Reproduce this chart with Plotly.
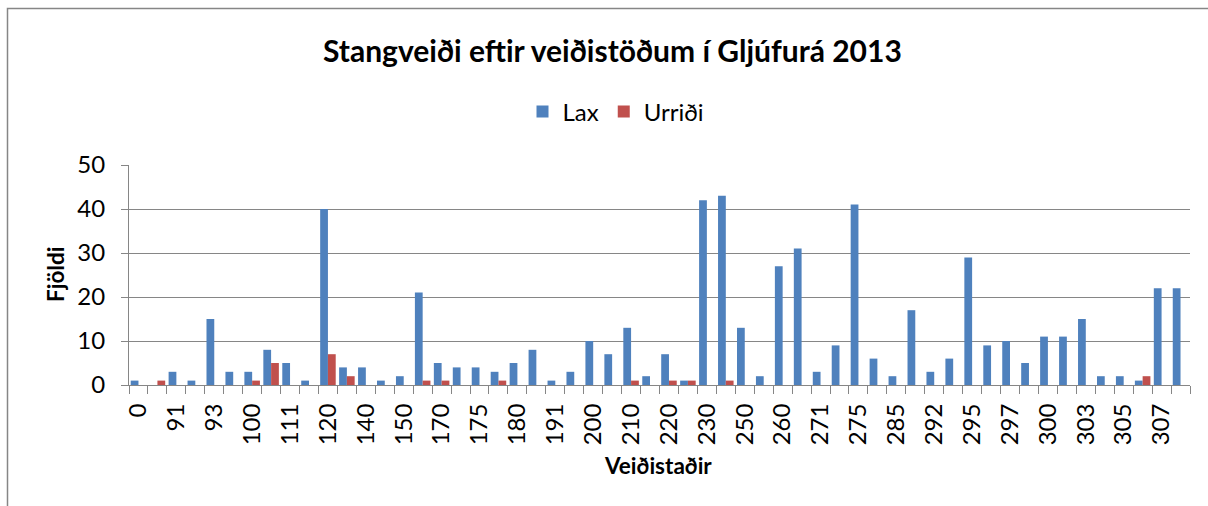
import plotly.graph_objects as go

# Category positions (56 fishing spots); only every other one carries a visible label
n_categories = 56
tick_labels = ["0", "91", "93", "100", "111", "120", "140", "150", "170", "175",
               "180", "191", "200", "210", "220", "230", "250", "260", "271", "275",
               "285", "292", "295", "297", "300", "303", "305", "307"]

lax = [1, 0, 3, 1, 15, 3, 3, 8, 5, 1,
       40, 4, 4, 1, 2, 21, 5, 4, 4, 3,
       5, 8, 1, 3, 10, 7, 13, 2, 7, 1,
       42, 43, 13, 2, 27, 31, 3, 9, 41, 6,
       2, 17, 3, 6, 29, 9, 10, 5, 11, 11,
       15, 2, 2, 1, 22, 22]
urridi = [0, 1, 0, 0, 0, 0, 1, 5, 0, 0,
          7, 2, 0, 0, 0, 1, 1, 0, 0, 1,
          0, 0, 0, 0, 0, 0, 1, 0, 1, 1,
          0, 1, 0, 0, 0, 0, 0, 0, 0, 0,
          0, 0, 0, 0, 0, 0, 0, 0, 0, 0,
          0, 0, 0, 2, 0, 0]

x_pos = list(range(n_categories))
tick_pos = x_pos[::2]

FONT = "Lato"
W, H = 1208, 506
L, R, T, B = 129, 18, 165, 121
pw, ph = W - L - R, H - T - B

def px(x):
    return (x - L) / pw

def py(y):
    return (H - B - y) / ph

fig = go.Figure()
fig.add_trace(go.Bar(x=x_pos, y=lax, name="Lax", marker=dict(color="#4F81BD", line=dict(width=0))))
fig.add_trace(go.Bar(x=x_pos, y=urridi, name="Urriði", marker=dict(color="#C0504D", line=dict(width=0))))

fig.update_layout(
    width=W, height=H,
    margin=dict(l=L, r=R, t=T, b=B, autoexpand=False),
    paper_bgcolor="white", plot_bgcolor="white",
    barmode="group", bargap=0.18, bargroupgap=0,
    font=dict(family=FONT, color="black"),
    showlegend=True,
    legend=dict(orientation="h", x=px(616), y=py(112), xanchor="center", yanchor="middle",
                font=dict(size=24, family=FONT), itemwidth=30, tracegroupgap=0,
                bgcolor="rgba(0,0,0,0)"),
    xaxis=dict(range=[-0.5, n_categories - 0.5], tickmode="array", tickvals=tick_pos,
               ticktext=tick_labels, tickangle=-90, ticks="", ticklen=0, ticklabelstandoff=8,
               tickfont=dict(size=24, family=FONT), showgrid=False, zeroline=False,
               showline=True, linecolor="#868686", linewidth=1,
               minor=dict(ticks="outside", ticklen=8, tickcolor="#868686", tick0=-0.5, dtick=1,
                          showgrid=False),
               automargin=False),
    yaxis=dict(range=[0, 50], tickmode="linear", tick0=0, dtick=10,
               ticks="outside", ticklen=7, tickcolor="#868686", ticklabelstandoff=11,
               tickfont=dict(size=24, family=FONT), showgrid=True, gridcolor="#868686",
               gridwidth=1, zeroline=False, showline=True, linecolor="#868686", linewidth=1,
               automargin=False),
)

fig.add_annotation(text="<b>Stangveiði eftir veiðistöðum í Gljúfurá 2013</b>", xref="paper", yref="paper",
                   x=px(612), y=py(50), xanchor="center", yanchor="middle", showarrow=False,
                   font=dict(size=30, family=FONT, color="black"))
fig.add_annotation(text="<b>Fjöldi</b>", xref="paper", yref="paper", textangle=-90,
                   x=px(55), y=py(275), xanchor="center", yanchor="middle", showarrow=False,
                   font=dict(size=22.5, family=FONT, color="black"))
fig.add_annotation(text="<b>Veiðistaðir</b>", xref="paper", yref="paper",
                   x=px(658), y=py(465), xanchor="center", yanchor="middle", showarrow=False,
                   font=dict(size=22.5, family=FONT, color="black"))

# chart-area frame (right and bottom edges fall outside the picture)
fig.add_shape(type="rect", xref="paper", yref="paper",
              x0=px(7.5), x1=px(1240), y0=py(540), y1=py(8.5),
              line=dict(color="#868686", width=1.5), fillcolor="rgba(0,0,0,0)", layer="below")

fig.write_html("out.html", config={"displayModeBar": False},
               post_script="document.body.style.margin='0';")
